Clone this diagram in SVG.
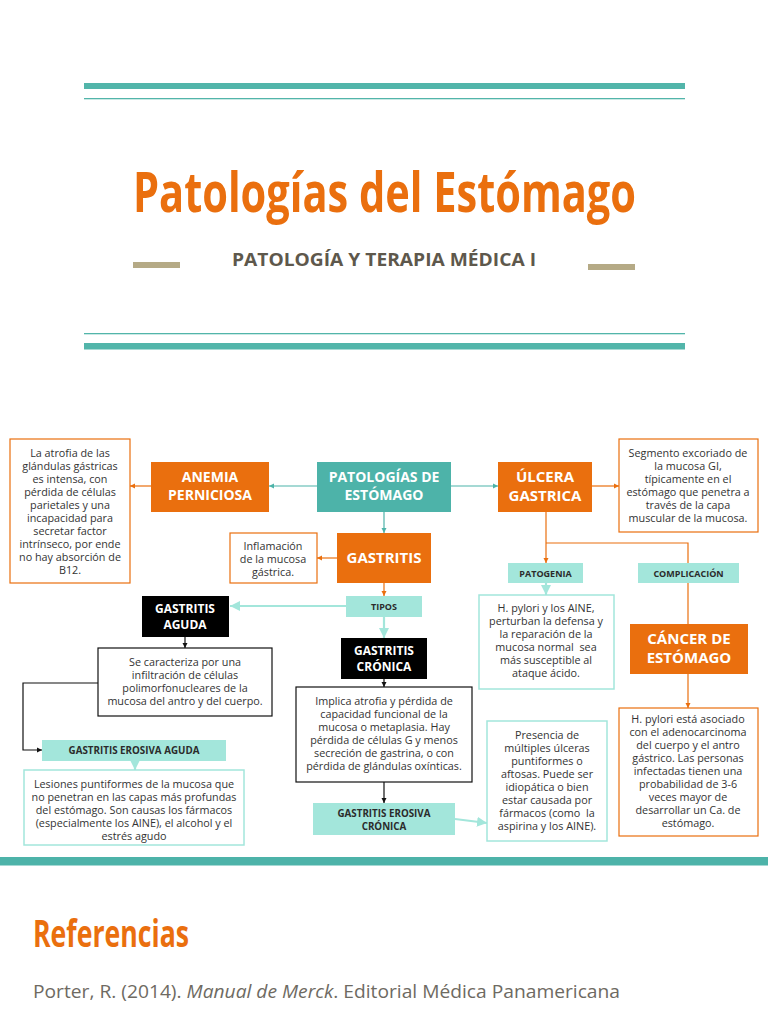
<svg xmlns="http://www.w3.org/2000/svg" width="768" height="1024" viewBox="0 0 768 1024">
<style>
text{font-family:"Open Sans","DejaVu Sans",sans-serif}
.nl{font-weight:700;fill:#fff;text-anchor:middle}
.bt{font-size:10.8px;fill:#333;text-anchor:middle}
.sl{font-weight:700;fill:#2b2b2b;text-anchor:middle}
.or{fill:#EA6F0E}
.bx{fill:#fff;stroke:#EA6F0E;stroke-width:1.2}
.kb{fill:#fff;stroke:#111;stroke-width:1.2}
.mb{fill:#fff;stroke:#A3E6DB;stroke-width:1.5}
.mint{fill:#A3E6DB}
.blk{fill:#000}
.teal{fill:#4DB3A9}
.co{fill:none;stroke:#EA6F0E;stroke-width:1.2}
.ct{fill:none;stroke:#4DB3A9;stroke-width:1.2}
.ck{fill:none;stroke:#111;stroke-width:1.2}
.cm{fill:none;stroke:#A3E6DB;stroke-width:2.2}
</style>
<defs>
<marker id="aO" markerWidth="6" markerHeight="6" refX="5" refY="3" orient="auto" markerUnits="userSpaceOnUse"><path d="M0,0.5 L5,3 L0,5.5z" fill="#EA6F0E"/></marker>
<marker id="aT" markerWidth="6" markerHeight="6" refX="5" refY="3" orient="auto" markerUnits="userSpaceOnUse"><path d="M0,0.5 L5,3 L0,5.5z" fill="#4DB3A9"/></marker>
<marker id="aK" markerWidth="6" markerHeight="6" refX="5" refY="3" orient="auto" markerUnits="userSpaceOnUse"><path d="M0,0.5 L5,3 L0,5.5z" fill="#111"/></marker>
<marker id="aM" markerWidth="12" markerHeight="12" refX="10" refY="6" orient="auto" markerUnits="userSpaceOnUse"><path d="M0,1 L10,6 L0,11z" fill="#A3E6DB"/></marker>
</defs>
<rect width="768" height="1024" fill="#fff"/>

<g id="header">
<rect x="84" y="83" width="601" height="6" fill="#52B5AA"/>
<rect x="84" y="98" width="601" height="1.3" fill="#52B5AA"/>
<g transform="translate(133,212) scale(0.655,1)">
<text x="0" y="0" font-size="56" font-weight="700" fill="#EA6F0E" textLength="768" lengthAdjust="spacingAndGlyphs">Patologías del Estómago</text>
</g>
<rect x="133" y="262" width="47" height="6" fill="#B5AA86"/>
<rect x="588" y="264" width="47" height="6" fill="#B5AA86"/>
<text x="232" y="266" font-size="18" font-weight="700" fill="#5E584C" textLength="304" lengthAdjust="spacingAndGlyphs">PATOLOGÍA Y TERAPIA MÉDICA I</text>
<rect x="84" y="333" width="601" height="1.3" fill="#52B5AA"/>
<rect x="84" y="343" width="601" height="6.5" fill="#52B5AA"/>
</g>

<g id="connectors">
<line class="ct" x1="317" y1="486" x2="269" y2="486" marker-end="url(#aT)"/>
<line class="co" x1="151" y1="486" x2="130" y2="486" marker-end="url(#aO)"/>
<line class="ct" x1="451" y1="486" x2="498" y2="486" marker-end="url(#aT)"/>
<line class="co" x1="592" y1="486" x2="619" y2="486" marker-end="url(#aO)"/>
<line class="ct" x1="384" y1="512" x2="384" y2="533" marker-end="url(#aT)"/>
<line class="co" x1="337" y1="558" x2="317" y2="558" marker-end="url(#aO)"/>
<line class="co" x1="384" y1="583" x2="384" y2="596" marker-end="url(#aO)"/>
<line class="cm" x1="346" y1="606" x2="230" y2="606" marker-end="url(#aM)"/>
<line class="cm" x1="384" y1="617" x2="384" y2="638" marker-end="url(#aM)"/>
<line class="ck" x1="185" y1="637" x2="185" y2="648" marker-end="url(#aK)"/>
<polyline class="ck" points="98,683 23,683 23,750 42,750" marker-end="url(#aK)"/>
<line class="cm" x1="135" y1="761" x2="135" y2="770" marker-end="url(#aM)"/>
<line class="ck" x1="384" y1="679" x2="384" y2="687" marker-end="url(#aK)"/>
<line class="ck" x1="384" y1="782" x2="384" y2="803" marker-end="url(#aK)"/>
<line class="cm" x1="455" y1="819" x2="487" y2="823" marker-end="url(#aM)"/>
<line class="co" x1="546" y1="512" x2="546" y2="563" marker-end="url(#aO)"/>
<polyline class="co" points="546,543 688,543 688,563"/>
<line class="cm" x1="546" y1="583" x2="546" y2="595" marker-end="url(#aM)"/>
<line class="co" x1="688" y1="583" x2="688" y2="624"/>
<line class="co" x1="688" y1="674" x2="688" y2="708" marker-end="url(#aO)"/>
</g>

<g id="anemia-desc">
<rect class="bx" x="10" y="439" width="120" height="144"/>
<text class="bt"><tspan x="70" y="457">La atrofia de las</tspan><tspan x="70" y="470">glándulas gástricas</tspan><tspan x="70" y="483">es intensa, con</tspan><tspan x="70" y="496">pérdida de células</tspan><tspan x="70" y="509">parietales y una</tspan><tspan x="70" y="522">incapacidad para</tspan><tspan x="70" y="535">secretar factor</tspan><tspan x="70" y="548">intrínseco, por ende</tspan><tspan x="70" y="561">no hay absorción de</tspan><tspan x="70" y="574">B12.</tspan></text>
</g>

<g id="anemia">
<rect class="or" x="151" y="462" width="118" height="50"/>
<text class="nl" font-size="14"><tspan x="210" y="482">ANEMIA</tspan><tspan x="210" y="500">PERNICIOSA</tspan></text>
</g>

<g id="patologias">
<rect class="teal" x="317" y="462" width="134" height="50"/>
<text class="nl" font-size="14"><tspan x="384" y="482">PATOLOGÍAS DE</tspan><tspan x="384" y="500">ESTÓMAGO</tspan></text>
</g>

<g id="ulcera">
<rect class="or" x="498" y="462" width="94" height="50"/>
<text class="nl" font-size="15"><tspan x="545" y="482">ÚLCERA</tspan><tspan x="545" y="501">GASTRICA</tspan></text>
</g>

<g id="ulcera-desc">
<rect class="bx" x="619" y="439" width="139" height="93"/>
<text class="bt"><tspan x="688" y="457">Segmento excoriado de</tspan><tspan x="688" y="470">la mucosa GI,</tspan><tspan x="688" y="483">típicamente en el</tspan><tspan x="688" y="496">estómago que penetra a</tspan><tspan x="688" y="509">través de la capa</tspan><tspan x="688" y="522">muscular de la mucosa.</tspan></text>
</g>

<g id="inflamacion">
<rect class="bx" x="230" y="533" width="87" height="50"/>
<text class="bt"><tspan x="273" y="550">Inflamación</tspan><tspan x="273" y="563">de la mucosa</tspan><tspan x="273" y="576">gástrica.</tspan></text>
</g>

<g id="gastritis">
<rect class="or" x="337" y="533" width="94" height="50"/>
<text class="nl" font-size="15" x="384" y="563">GASTRITIS</text>
</g>

<g id="tipos">
<rect class="mint" x="346" y="596" width="76" height="21"/>
<text class="sl" font-size="9" x="384" y="610">TIPOS</text>
</g>

<g id="gastritis-aguda">
<rect class="blk" x="142" y="596" width="87" height="41"/>
<text class="nl" font-size="12"><tspan x="185" y="613">GASTRITIS</tspan><tspan x="185" y="629">AGUDA</tspan></text>
</g>

<g id="aguda-desc">
<rect class="kb" x="98" y="648" width="174" height="68"/>
<text class="bt"><tspan x="185" y="666">Se caracteriza por una</tspan><tspan x="185" y="679">infiltración de células</tspan><tspan x="185" y="692">polimorfonucleares de la</tspan><tspan x="185" y="705">mucosa del antro y del cuerpo.</tspan></text>
</g>

<g id="erosiva-aguda">
<rect class="mint" x="42" y="740" width="184" height="21"/>
<text class="sl" font-size="9.8" x="134" y="754">GASTRITIS EROSIVA AGUDA</text>
</g>

<g id="lesiones">
<rect class="mb" x="24" y="770" width="220" height="75"/>
<text class="bt"><tspan x="134" y="788">Lesiones puntiformes de la mucosa que</tspan><tspan x="134" y="801">no penetran en las capas más profundas</tspan><tspan x="134" y="814">del estómago. Son causas los fármacos</tspan><tspan x="134" y="827">(especialmente los AINE), el alcohol y el</tspan><tspan x="134" y="840">estrés agudo</tspan></text>
</g>

<g id="gastritis-cronica">
<rect class="blk" x="341" y="638" width="86" height="41"/>
<text class="nl" font-size="12"><tspan x="384" y="655">GASTRITIS</tspan><tspan x="384" y="671">CRÓNICA</tspan></text>
</g>

<g id="cronica-desc">
<rect class="kb" x="296" y="687" width="176" height="95"/>
<text class="bt"><tspan x="384" y="705">Implica atrofia y pérdida de</tspan><tspan x="384" y="718">capacidad funcional de la</tspan><tspan x="384" y="731">mucosa o metaplasia. Hay</tspan><tspan x="384" y="744">pérdida de células G y menos</tspan><tspan x="384" y="757">secreción de gastrina, o con</tspan><tspan x="384" y="770">pérdida de glándulas oxínticas.</tspan></text>
</g>

<g id="erosiva-cronica">
<rect class="mint" x="313" y="803" width="142" height="32"/>
<text class="sl" font-size="9.8"><tspan x="384" y="817">GASTRITIS EROSIVA</tspan><tspan x="384" y="830">CRÓNICA</tspan></text>
</g>

<g id="presencia">
<rect class="mb" x="487" y="721" width="120" height="120"/>
<text class="bt"><tspan x="547" y="739">Presencia de</tspan><tspan x="547" y="752">múltiples úlceras</tspan><tspan x="547" y="765">puntiformes o</tspan><tspan x="547" y="778">aftosas. Puede ser</tspan><tspan x="547" y="791">idiopática o bien</tspan><tspan x="547" y="804">estar causada por</tspan><tspan x="547" y="817">fármacos (como &#160;la</tspan><tspan x="547" y="830">aspirina y los AINE).</tspan></text>
</g>

<g id="patogenia">
<rect class="mint" x="508" y="563" width="75" height="20"/>
<text class="sl" font-size="9" x="545.5" y="576.5">PATOGENIA</text>
</g>

<g id="patogenia-desc">
<rect class="mb" x="479" y="595" width="135" height="94"/>
<text class="bt"><tspan x="546" y="612">H. pylori y los AINE,</tspan><tspan x="546" y="625">perturban la defensa y</tspan><tspan x="546" y="638">la reparación de la</tspan><tspan x="546" y="651">mucosa normal &#160;sea</tspan><tspan x="546" y="664">más susceptible al</tspan><tspan x="546" y="677">ataque ácido.</tspan></text>
</g>

<g id="complicacion">
<rect class="mint" x="638" y="563" width="101" height="20"/>
<text class="sl" font-size="9" x="688.5" y="576.5">COMPLICACIÓN</text>
</g>

<g id="cancer">
<rect class="or" x="630" y="624" width="118" height="50"/>
<text class="nl" font-size="15"><tspan x="689" y="644">CÁNCER DE</tspan><tspan x="689" y="663">ESTÓMAGO</tspan></text>
</g>

<g id="cancer-desc">
<rect class="bx" x="619" y="708" width="139" height="128"/>
<text class="bt"><tspan x="688" y="723">H. pylori está asociado</tspan><tspan x="688" y="736">con el adenocarcinoma</tspan><tspan x="688" y="749">del cuerpo y el antro</tspan><tspan x="688" y="762">gástrico. Las personas</tspan><tspan x="688" y="775">infectadas tienen una</tspan><tspan x="688" y="788">probabilidad de 3-6</tspan><tspan x="688" y="801">veces mayor de</tspan><tspan x="688" y="814">desarrollar un Ca. de</tspan><tspan x="688" y="827">estómago.</tspan></text>
</g>

<g id="footer">
<rect x="0" y="857" width="768" height="8.5" fill="#4DB3A9"/>
<text x="33" y="947" font-size="37" font-weight="700" fill="#EA6F0E" textLength="156" lengthAdjust="spacingAndGlyphs">Referencias</text>
<text x="33" y="998" font-size="19" fill="#6E6A62" textLength="587" lengthAdjust="spacingAndGlyphs">Porter, R. (2014). <tspan font-style="italic">Manual de Merck</tspan>. Editorial Médica Panamericana</text>
</g>
</svg>
